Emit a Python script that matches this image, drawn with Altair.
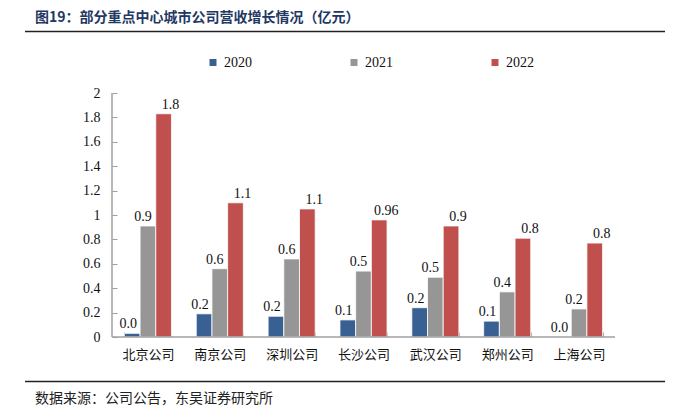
import altair as alt
import pandas as pd

cities = ["北京公司", "南京公司", "深圳公司", "长沙公司", "武汉公司", "郑州公司", "上海公司"]
years = ["2020", "2021", "2022"]
v2020 = [0.03, 0.19, 0.17, 0.14, 0.24, 0.13, 0.0]
v2021 = [0.91, 0.56, 0.64, 0.54, 0.49, 0.37, 0.23]
v2022 = [1.83, 1.10, 1.05, 0.96, 0.91, 0.81, 0.77]
lab2020 = ["0.0", "0.2", "0.2", "0.1", "0.2", "0.1", "0.0"]
lab2021 = ["0.9", "0.6", "0.6", "0.5", "0.5", "0.4", "0.2"]
lab2022 = ["1.8", "1.1", "1.1", "0.96", "0.9", "0.8", "0.8"]
y_ticks = [0, 0.2, 0.4, 0.6, 0.8, 1, 1.2, 1.4, 1.6, 1.8, 2]
colors = ["#386092", "#969696", "#C0504D"]
title_text = "图19：部分重点中心城市公司营收增长情况（亿元）"
source_text = "数据来源：公司公告，东吴证券研究所"

rows = []
for yr, vals, labs in zip(years, [v2020, v2021, v2022], [lab2020, lab2021, lab2022]):
    for c, v, l in zip(cities, vals, labs):
        rows.append({"city": c, "year": yr, "value": v, "label": l})
df = pd.DataFrame(rows)
one = pd.DataFrame({"k": [0]})

W, H = 503, 244
AX = "#a0a0a0"

x_enc = alt.X("city:N", sort=cities,
              scale=alt.Scale(paddingInner=0.345, paddingOuter=0.1725),
              axis=alt.Axis(title=None, labelAngle=0, tickBand="extent", domain=False,
                            offset=-5, tickSize=5, tickColor=AX, tickWidth=1,
                            labelFont="Noto Sans CJK SC", labelFontSize=13,
                            labelColor="#111", labelPadding=11))
y_enc = alt.Y("value:Q", scale=alt.Scale(domain=[0, 2], nice=False),
              axis=alt.Axis(values=y_ticks, format="~g", title=None, grid=False,
                            domain=False, offset=-5, tickSize=5, tickColor=AX,
                            tickWidth=1, labelPadding=12, labelFont="Liberation Serif",
                            labelFontSize=14, labelColor="#111"))
xo_enc = alt.XOffset("year:N", sort=years,
                     scale=alt.Scale(domain=years, paddingInner=0, paddingOuter=0))

bars = alt.Chart(df).mark_bar(stroke="white", strokeWidth=0.8).encode(
    x=x_enc, y=y_enc, xOffset=xo_enc,
    color=alt.Color("year:N", sort=years,
                    scale=alt.Scale(domain=years, range=colors),
                    legend=alt.Legend(title=None, orient="none", legendX=94, legendY=-37.5,
                                      direction="horizontal", symbolType="square",
                                      symbolSize=49, symbolStrokeWidth=0,
                                      labelFont="Liberation Serif", labelFontSize=14,
                                      labelColor="#111", columnPadding=95,
                                      labelOffset=4, padding=0)),
)


def labels(yr, dx):
    return alt.Chart(df).transform_filter(alt.datum.year == yr).mark_text(
        dx=dx, dy=-5, baseline="alphabetic", font="Liberation Serif",
        fontSize=14, color="#111"
    ).encode(x=x_enc, y=y_enc, xOffset=xo_enc, text="label:N")


yaxis_line = alt.Chart(one).mark_rule(color=AX, strokeWidth=1.5).encode(
    x=alt.value(0), y=alt.value(0), y2=alt.value(H))
xaxis_line = alt.Chart(one).mark_rule(color=AX, strokeWidth=1.5).encode(
    x=alt.value(0), x2=alt.value(W), y=alt.value(H))
top_line = alt.Chart(one).mark_rule(color="#222", strokeWidth=1.5).encode(
    x=alt.value(-87), x2=alt.value(553), y=alt.value(-61.5))
bottom_line = alt.Chart(one).mark_rule(color="#222", strokeWidth=1.5).encode(
    x=alt.value(-87), x2=alt.value(553), y=alt.value(288.5))
title = alt.Chart(one).mark_text(
    align="left", baseline="middle", font="Noto Sans CJK SC", fontSize=14,
    fontWeight="bold", color="#1F3864"
).encode(x=alt.value(-77), y=alt.value(-75), text=alt.value(title_text))
source = alt.Chart(one).mark_text(
    align="left", baseline="middle", font="Noto Sans CJK SC", fontSize=14,
    color="#222"
).encode(x=alt.value(-77), y=alt.value(306), text=alt.value(source_text))

chart = alt.layer(
    bars, labels("2020", -4), labels("2021", -5), labels("2022", 7),
    yaxis_line, xaxis_line, top_line, bottom_line, title, source
).properties(
    width=W, height=H,
    autosize=alt.AutoSizeParams(type="none"),
    padding={"left": 104, "top": 85, "right": 69, "bottom": 71},
    background="white",
).configure_view(stroke=None)

chart.save("out.html", embed_options={"renderer": "svg", "actions": False})
